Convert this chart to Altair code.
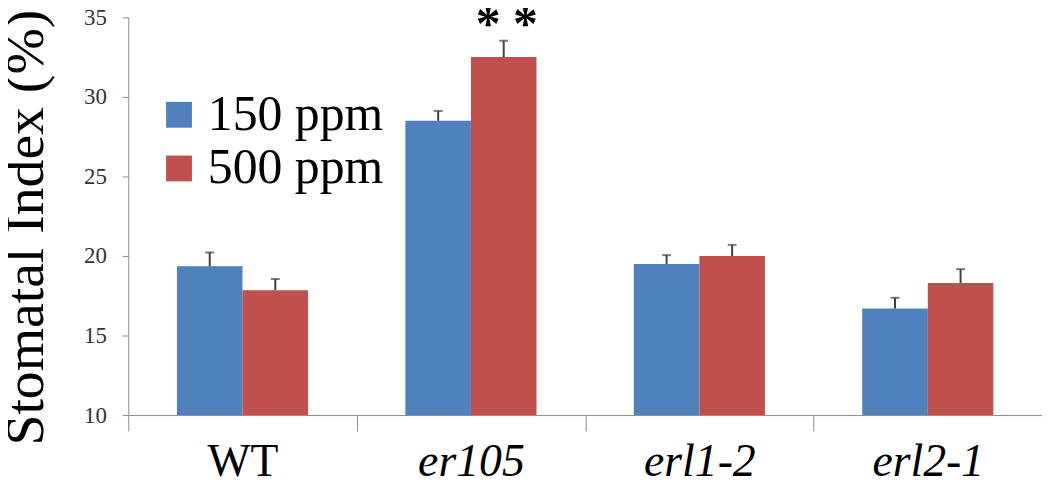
import altair as alt
import pandas as pd

genotypes = ["WT", "er105", "erl1-2", "erl2-1"]
concentrations = ["150 ppm", "500 ppm"]
means_150 = [19.35, 28.5, 19.5, 16.7]
means_500 = [17.85, 32.5, 20.0, 18.3]
err_150 = [0.87, 0.62, 0.55, 0.67]
err_500 = [0.7, 1.03, 0.7, 0.87]
y_ticks = [10, 15, 20, 25, 30, 35]
sig_genotype = "er105"
sig_conc = "500 ppm"
sig_label = "* *"

colors = ["#4F81BD", "#C0504D"]
SERIF = "Liberation Serif"

rows = []
for g, m1, m2, e1, e2 in zip(genotypes, means_150, means_500, err_150, err_500):
    rows.append({"genotype": g, "conc": concentrations[0], "mean": m1, "err": e1})
    rows.append({"genotype": g, "conc": concentrations[1], "mean": m2, "err": e2})
df = pd.DataFrame(rows)
df["label"] = ["" if not (r.genotype == sig_genotype and r.conc == sig_conc) else sig_label
               for r in df.itertuples()]

x_enc = alt.X(
    "genotype:N",
    sort=genotypes,
    scale=alt.Scale(domain=genotypes, paddingInner=0, paddingOuter=0),
    axis=alt.Axis(
        title=None,
        labelAngle=0,
        tickBand="extent",
        tickSize=16,
        tickColor="#8c8c8c",
        tickWidth=1,
        domainColor="#8c8c8c",
        domainWidth=1,
        labelFont=SERIF,
        labelFontSize=46,
        labelColor="#000000",
        labelPadding=9,
        labelFontStyle={"condition": {"test": "datum.value == 'WT'", "value": "normal"}, "value": "italic"},
    ),
)
xo_enc = alt.XOffset(
    "conc:N",
    scale=alt.Scale(domain=concentrations, paddingInner=0, paddingOuter=0.742),
)
y_scale = alt.Scale(domain=[y_ticks[0], y_ticks[-1]], nice=False, zero=False)

base = alt.Chart(df).encode(x=x_enc, xOffset=xo_enc)

bars = base.mark_bar(stroke=None).encode(
    y=alt.Y(
        "mean:Q",
        scale=y_scale,
        axis=alt.Axis(
            values=y_ticks,
            title="Stomatal Index (%)",
            titleFont=SERIF,
            titleFontSize=56,
            titleFontWeight="normal",
            titleColor="#000000",
            titleAngle=-90,
            titleX=-86,
            titleY=211,
            titleAlign="center",
            titleBaseline="alphabetic",
            labelFont=SERIF,
            labelFontSize=23,
            labelColor="#333333",
            labelPadding=16,
            tickSize=6,
            tickColor="#8c8c8c",
            domainColor="#8c8c8c",
            grid=False,
        ),
    ),
    y2=alt.datum(y_ticks[0]),
    color=alt.Color(
        "conc:N",
        scale=alt.Scale(domain=concentrations, range=colors),
        legend=alt.Legend(
            title=None,
            orient="none",
            legendX=26,
            legendY=73,
            padding=0,
            symbolType="square",
            symbolSize=676,
            symbolStrokeWidth=0,
            symbolOpacity=1,
            labelFont=SERIF,
            labelFontSize=50,
            labelColor="#000000",
            labelOffset=4,
            rowPadding=4,
            labelLimit=400,
        ),
    ),
)

err_rule = base.transform_calculate(top="datum.mean + datum.err").mark_rule(
    color="#404040", strokeWidth=2
).encode(y=alt.Y("mean:Q", scale=y_scale), y2="top:Q")

err_cap = base.transform_calculate(top="datum.mean + datum.err").mark_tick(
    color="#404040", thickness=2, size=9
).encode(y=alt.Y("top:Q", scale=y_scale))

stars = base.transform_filter("datum.label != ''").transform_calculate(
    top="datum.mean + datum.err"
).mark_text(
    font=SERIF, fontSize=50, fontWeight="bold", color="#000000", baseline="alphabetic", dy=-1, dx=3
).encode(y=alt.Y("top:Q", scale=y_scale), text="label:N")

chart = (
    alt.layer(bars, err_rule, err_cap, stars)
    .properties(
        width=919,
        height=400,
        autosize=alt.AutoSizeParams(type="none"),
        padding={"left": 121, "top": 8, "right": 0, "bottom": 77},
    )
    .configure_view(stroke=None)
)

chart.save("out.html", embed_options={"renderer": "svg", "actions": False})
